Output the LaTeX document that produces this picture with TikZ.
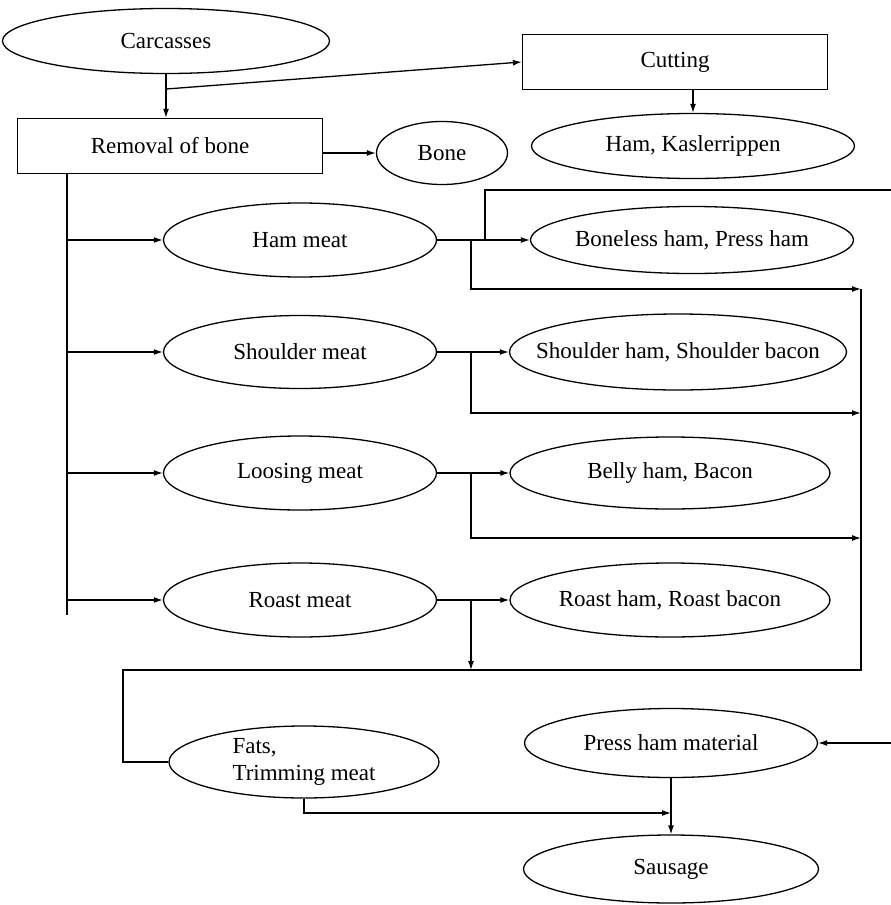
\documentclass[tikz,border=0pt]{standalone}
\usepackage{fontspec}
\setmainfont{Liberation Serif}
\usepackage{tikz}
\usetikzlibrary{shapes.geometric,arrows.meta,calc}

\begin{document}
\begin{tikzpicture}[x=1pt, y=-1pt, line width=1.3pt,
    >={Latex[length=9pt,width=6pt]},
    box/.style={draw, rectangle, inner sep=0pt, minimum width=305pt, minimum height=55pt},
    oval/.style={draw, ellipse, inner xsep=-40pt, inner ysep=0pt},
    every node/.style={font=\fontsize{23}{27}\selectfont}]
    \useasboundingbox (0,0) rectangle (891,905);

    % Top row: carcasses, cutting and bone removal
    \node[oval, minimum width=327pt, minimum height=65pt] (carc) at (166,41) {Carcasses};
    \node[box] (removal) at (170,146) {Removal of bone};
    \node[oval, minimum width=131pt, minimum height=63pt] (bone) at (442,153) {Bone};
    \node[box] (cutting) at (675,62) {Cutting};
    \node[oval, minimum width=323pt, minimum height=65pt] (kasler) at (693,146) {Ham, Kaslerrippen};

    % Meat parts (left column)
    \node[oval, minimum width=273pt, minimum height=74pt] (hammeat)  at (300,240) {Ham meat};
    \node[oval, minimum width=273pt, minimum height=73pt] (shoulder) at (300,352) {Shoulder meat};
    \node[oval, minimum width=273pt, minimum height=74pt] (loosing)  at (300,473) {Loosing meat};
    \node[oval, minimum width=273pt, minimum height=74pt] (roast)    at (300,600) {Roast meat};

    % Products (right column)
    \node[oval, minimum width=323pt, minimum height=67pt] (boneless) at (692,240) {Boneless ham, Press ham};
    \node[oval, minimum width=337pt, minimum height=76pt] (shham)    at (678,352) {Shoulder ham, Shoulder bacon};
    \node[oval, minimum width=320pt, minimum height=72pt] (belly)    at (670,473) {Belly ham, Bacon};
    \node[oval, minimum width=320pt, minimum height=74pt] (roastham) at (670,600) {Roast ham, Roast bacon};

    % Bottom: trimmings, press ham material, sausage
    \node[oval, minimum width=270pt, minimum height=72pt, align=left] (fats) at (304,762) {Fats,\\Trimming meat};
    \node[oval, minimum width=293pt, minimum height=69pt] (pressham) at (671,743) {Press ham material};
    \node[oval, minimum width=295pt, minimum height=68pt] (sausage)  at (671,869) {Sausage};

    % Helper points for the return lines
    \coordinate (drop) at (471,0);
    \coordinate (up) at (485,0);
    \coordinate (col) at (861,289);
    \coordinate (bus) at (123,670);
    \coordinate (outgo) at (891,190);
    \coordinate (income) at (891,743);

    % Carcasses to bone removal and cutting
    \draw[->] (carc.south) -- (carc.south |- removal.north);
    \draw[->] ($(carc.south)!0.34!(carc.south |- removal.north)$) -- (cutting.west);
    \draw[->] (kasler.north |- cutting.south) -- (kasler.north);
    \draw[->] (removal.east |- bone.west) -- (bone.west);

    % Trunk from bone removal to the meat parts
    \draw ($(removal.south west)+(50,0)$) coordinate (t0) -- ($(t0 |- roast.west)+(0,15)$);
    \foreach \m in {hammeat, shoulder, loosing, roast}
        \draw[->] (t0 |- \m.west) -- (\m.west);

    % Meat parts to products
    \draw[->] (hammeat.east) -- (boneless.west);
    \draw[->] (shoulder.east) -- (shham.west);
    \draw[->] (loosing.east) -- (belly.west);
    \draw[->] (roast.east) -- (roastham.west);

    % Leftovers back to the collector line
    \foreach \m/\y in {hammeat/289, shoulder/413, loosing/538}
        \draw[->] (\m.east -| drop) |- (col |- 0,\y);
    \draw (hammeat.east -| up) |- (outgo);
    \draw[->] (roast.east -| drop) -- (drop |- bus);
    \draw (col) |- (bus) |- (fats.west);

    % Sausage
    \draw[->] (income) -- (pressham.east);
    \draw[->] (pressham.south) -- (sausage.north);
    \draw[->] (fats.south) |- ($(pressham.south)!0.62!(sausage.north)$);
\end{tikzpicture}
\end{document}
